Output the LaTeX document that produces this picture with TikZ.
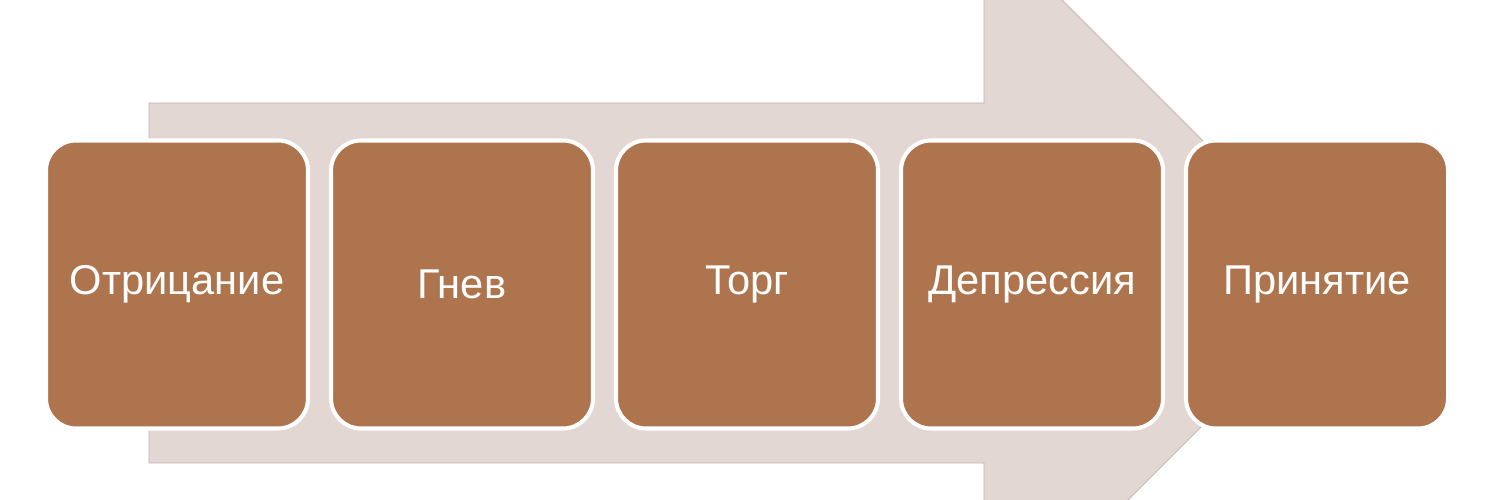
\documentclass[tikz,border=0pt]{standalone}
\usepackage{fontspec}
\setmainfont{Liberation Sans}
\usepackage{xcolor}

\definecolor{arrowfill}{RGB}{226,215,210}
\definecolor{arrowline}{RGB}{188,178,175}
\definecolor{stagefill}{RGB}{173,116,78}

\begin{document}
\begin{tikzpicture}[
    scale=1.0,
    font=\fontsize{23.7}{28}\selectfont,
    stage/.style={draw=white, line width=2.3pt, fill=stagefill, rounded corners=0.6cm,
                  minimum width=5.24cm, minimum height=5.76cm, text=white, inner sep=0pt},
]

% Canvas
\useasboundingbox (0, 0) rectangle (30, 10);
\clip (0, 0) rectangle (30, 10);

% Background arrow
\draw[fill=arrowfill, draw=arrowline, line width=0.4pt]
    (2.98, 7.94) -- (19.68, 7.94) -- (19.68, 11.56) -- (26.9, 4.34)
    -- (19.68, -2.88) -- (19.68, 0.74) -- (2.98, 0.74) -- cycle;

% Stages
\node[stage] (denial) at (3.54, 4.31) {Отрицание};
\node[stage] (anger) at (9.24, 4.31) {Гнев};
\node[stage] (bargain) at (14.94, 4.31) {Торг};
\node[stage] (depression) at (20.64, 4.31) {Депрессия};
\node[stage] (acceptance) at (26.34, 4.31) {Принятие};

\end{tikzpicture}
\end{document}
